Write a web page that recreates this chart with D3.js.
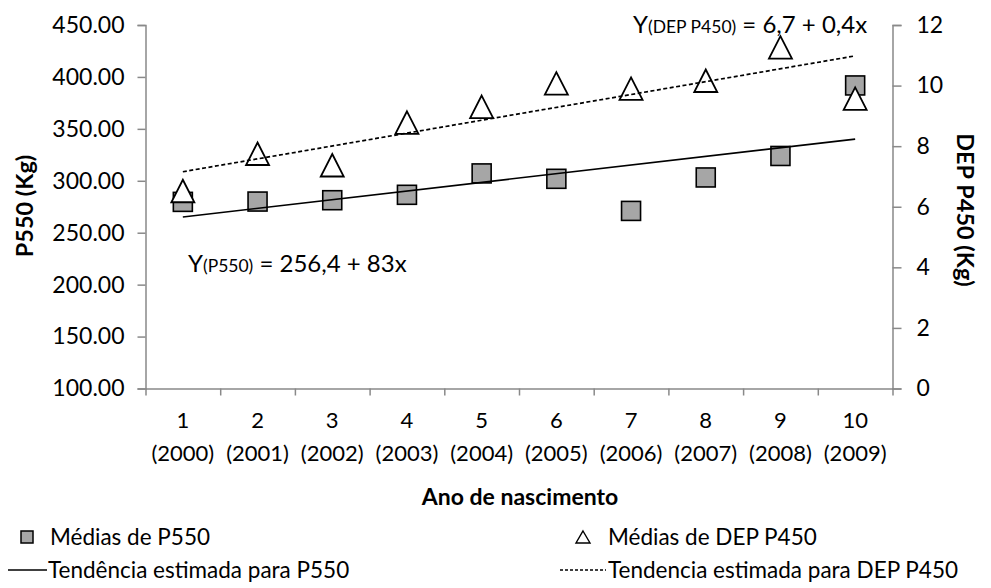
<!DOCTYPE html>
<html>
<head>
<meta charset="utf-8">
<script src="https://cdn.jsdelivr.net/npm/d3@7"></script>
<style>
  html, body { margin: 0; padding: 0; background: #fff; }
  svg { display: block; font-family: Lato, "Open Sans", sans-serif; }
</style>
</head>
<body>
<svg id="chart" width="991" height="588"></svg>
<script>
// ---- data ----
const categories = [1, 2, 3, 4, 5, 6, 7, 8, 9, 10];
const yearLabels = ["(2000)", "(2001)", "(2002)", "(2003)", "(2004)", "(2005)", "(2006)", "(2007)", "(2008)", "(2009)"];
const p550 = [279.7, 280.0, 281.3, 286.5, 307.1, 301.9, 271.0, 303.2, 323.9, 391.8];
const depP450 = [6.52, 7.75, 7.37, 8.78, 9.30, 10.07, 9.90, 10.16, 11.26, 9.57];
const leftTicks = [100, 150, 200, 250, 300, 350, 400, 450];
const rightTicks = [0, 2, 4, 6, 8, 10, 12];

// ---- layout ----
const svg = d3.select("#chart");
const L = 145.5, R = 892.5, T = 25, B = 388.5;
const axisColor = "#898989";

const x = d3.scaleLinear().domain([0.5, 10.5]).range([L, R]);
const yL = d3.scaleLinear().domain([100, 450]).range([B, T]);
const yR = d3.scaleLinear().domain([0, 12]).range([B, T]);

function styleAxis(g, fs) {
  g.select(".domain").attr("stroke", axisColor).attr("stroke-width", 1.5);
  g.selectAll(".tick line").attr("stroke", axisColor).attr("stroke-width", 1.5);
  g.selectAll(".tick text").attr("fill", "#000").attr("font-size", fs).attr("font-family", "Lato");
}

// left axis
const gL = svg.append("g").attr("transform", `translate(${L},0)`)
  .call(d3.axisLeft(yL).tickValues(leftTicks).tickFormat(d3.format(".2f")).tickSize(8).tickPadding(13));
styleAxis(gL, 23);

// right axis
const gR = svg.append("g").attr("transform", `translate(${R},0)`)
  .call(d3.axisRight(yR).tickValues(rightTicks).tickFormat(d3.format("d")).tickSize(9).tickPadding(15));
styleAxis(gR, 23);

// bottom axis (ticks at category boundaries)
const gB = svg.append("g").attr("transform", `translate(0,${B})`)
  .call(d3.axisBottom(x).tickValues(d3.range(0.5, 11, 1)).tickFormat("").tickSize(7).tickSizeOuter(0));
styleAxis(gB, 22);

// category labels
const lab = svg.append("g").attr("font-size", 22).attr("text-anchor", "middle").attr("fill", "#000");
lab.selectAll("text.n").data(categories).join("text").attr("class", "n")
  .attr("x", d => x(d)).attr("y", 428).text(d => d);
lab.selectAll("text.yr").data(yearLabels).join("text").attr("class", "yr")
  .attr("x", (d, i) => x(categories[i])).attr("y", 461).text(d => d);

// titles
svg.append("text").attr("x", 520).attr("y", 505).attr("text-anchor", "middle")
  .attr("font-size", 23).attr("font-weight", "bold").text("Ano de nascimento");
svg.append("text").attr("transform", "translate(24,206) rotate(-90)").attr("text-anchor", "middle")
  .attr("dominant-baseline", "central").attr("font-size", 23.5).attr("font-weight", "bold").text("P550 (Kg)");
svg.append("text").attr("transform", "translate(966,210) rotate(90)").attr("text-anchor", "middle")
  .attr("dominant-baseline", "central").attr("font-size", 23.5).attr("font-weight", "bold").text("DEP P450 (Kg)");

// regression
function linreg(xs, ys) {
  const mx = d3.mean(xs), my = d3.mean(ys);
  const sxy = d3.sum(xs, (v, i) => (v - mx) * (ys[i] - my));
  const sxx = d3.sum(xs, v => (v - mx) * (v - mx));
  const b = sxy / sxx;
  return { a: my - b * mx, b };
}
const regP = linreg(categories, p550);
const regD = linreg(categories, depP450);
const x0 = categories[0], x1 = categories[categories.length - 1];

// markers: squares
const sq = 19;
svg.append("g").selectAll("rect").data(p550).join("rect")
  .attr("x", (d, i) => x(categories[i]) - sq / 2)
  .attr("y", d => yL(d) - sq / 2)
  .attr("width", sq).attr("height", sq)
  .attr("fill", "#a6a6a6").attr("stroke", "#000").attr("stroke-width", 1.6);

// markers: triangles
const tw = 23, th = 22.5;
function triPath(cx, cy, w, h) {
  return `M${cx},${cy - h / 2}L${cx + w / 2},${cy + h / 2}L${cx - w / 2},${cy + h / 2}Z`;
}
svg.append("g").selectAll("path").data(depP450).join("path")
  .attr("d", (d, i) => triPath(x(categories[i]), yR(d), tw, th))
  .attr("fill", "#fff").attr("stroke", "#000").attr("stroke-width", 1.8).attr("stroke-linejoin", "miter");

// trend lines
svg.append("line")
  .attr("x1", x(x0)).attr("y1", yL(regP.a + regP.b * x0))
  .attr("x2", x(x1)).attr("y2", yL(regP.a + regP.b * x1))
  .attr("stroke", "#000").attr("stroke-width", 1.6);
svg.append("line")
  .attr("x1", x(x0)).attr("y1", yR(regD.a + regD.b * x0))
  .attr("x2", x(x1)).attr("y2", yR(regD.a + regD.b * x1))
  .attr("stroke", "#000").attr("stroke-width", 1.7).attr("stroke-dasharray", "4,2.5");

// equations
const eq1 = svg.append("text").attr("x", 188).attr("y", 272).attr("font-size", 24);
eq1.append("tspan").text("Y");
eq1.append("tspan").attr("font-size", 17.5).text("(P550)");
eq1.append("tspan").text(" = 256,4 + 83x");
const eq2 = svg.append("text").attr("x", 633).attr("y", 33).attr("font-size", 24);
eq2.append("tspan").text("Y");
eq2.append("tspan").attr("font-size", 17.5).text("(DEP P450)");
eq2.append("tspan").text(" = 6,7 + 0,4x");

// legend
const lg = svg.append("g").attr("font-size", 22.5);
const r1 = 536, r2 = 569;
lg.append("rect").attr("x", 27 - 6).attr("y", r1 + 1 - 6).attr("width", 12).attr("height", 12)
  .attr("fill", "#a6a6a6").attr("stroke", "#000").attr("stroke-width", 1.5);
lg.append("text").attr("x", 50).attr("y", r1).attr("dominant-baseline", "central").text("Médias de P550");
lg.append("path").attr("d", triPath(583, r1 + 1, 14, 12)).attr("fill", "#fff").attr("stroke", "#000").attr("stroke-width", 1.4);
lg.append("text").attr("x", 608).attr("y", r1).attr("dominant-baseline", "central").text("Médias de DEP P450");
lg.append("line").attr("x1", 8).attr("x2", 47).attr("y1", r2 + 1).attr("y2", r2 + 1).attr("stroke", "#000").attr("stroke-width", 1.5);
lg.append("text").attr("x", 48).attr("y", r2).attr("dominant-baseline", "central").text("Tendência estimada para P550");
lg.append("line").attr("x1", 560).attr("x2", 606).attr("y1", r2 + 1).attr("y2", r2 + 1).attr("stroke", "#000").attr("stroke-width", 1.5).attr("stroke-dasharray", "3,2");
lg.append("text").attr("x", 608).attr("y", r2).attr("dominant-baseline", "central").text("Tendencia estimada para DEP P450");
</script>
</body>
</html>
